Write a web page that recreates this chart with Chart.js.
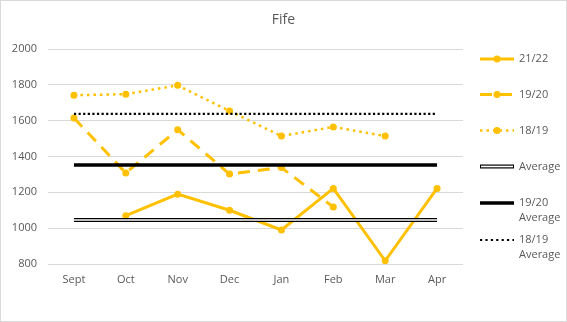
<!DOCTYPE html>
<html>
<head>
<meta charset="utf-8">
<script src="https://cdn.jsdelivr.net/npm/chart.js@4/dist/chart.umd.min.js"></script>
<style>
  html, body { margin: 0; padding: 0; background: #fff; }
  #wrap { width: 567px; height: 322px; position: relative; }
</style>
</head>
<body>
<div id="wrap"><canvas id="c" width="567" height="322"></canvas></div>
<script>
// Monthly figures for Fife
const months = ['Sept', 'Oct', 'Nov', 'Dec', 'Jan', 'Feb', 'Mar', 'Apr'];
const s2122 = [null, 1070, 1190, 1100, 990, 1222, 818, 1222];
const s1920 = [1615, 1308, 1550, 1302, 1338, 1118, null, null];
const s1819 = [1742, 1748, 1797, 1654, 1514, 1565, 1514, null];
const avg2122 = [1046, 1046, 1046, 1046, 1046, 1046, 1046, 1046];
const avg1920 = [1352, 1352, 1352, 1352, 1352, 1352, 1352, 1352];
const avg1819 = [1638, 1638, 1638, 1638, 1638, 1638, 1638, 1638];
const yTicks = [800, 1000, 1200, 1400, 1600, 1800, 2000];
const legendLabels = [['21/22'], ['19/20'], ['18/19'], ['Average'], ['19/20', 'Average'], ['18/19', 'Average']];

const GOLD = '#FFC000';
const FONT = "'Open Sans', 'Liberation Sans', sans-serif";

const datasets = [
  { data: s2122, borderColor: GOLD, backgroundColor: GOLD, borderWidth: 3,
    pointRadius: 3.5, pointBorderWidth: 0, pointBackgroundColor: GOLD },
  { data: s1920, borderColor: GOLD, backgroundColor: GOLD, borderWidth: 3,
    borderDash: [12, 8], pointRadius: 3.5, pointBorderWidth: 0, pointBackgroundColor: GOLD },
  { data: s1819, borderColor: GOLD, backgroundColor: GOLD, borderWidth: 2.5,
    borderDash: [2.5, 4], pointRadius: 3.5, pointBorderWidth: 0, pointBackgroundColor: GOLD },
  { data: avg2122, borderColor: '#000', borderWidth: 4, pointRadius: 0 },
  { data: avg2122, borderColor: '#fff', borderWidth: 1.6, pointRadius: 0 },
  { data: avg1920, borderColor: '#000', borderWidth: 3.5, pointRadius: 0 },
  { data: avg1819, borderColor: '#000', borderWidth: 2.2, borderDash: [2.2, 2.4], pointRadius: 0 }
];
// later series are painted over earlier ones
datasets.forEach((d, i) => {
  d.fill = false; d.tension = 0; d.spanGaps = false; d.borderCapStyle = 'butt';
  d.order = 10 - i;
});

// Title, legend and outer frame
const decor = {
  id: 'decor',
  afterDraw(chart) {
    const ctx = chart.ctx;
    ctx.save();
    ctx.strokeStyle = '#d9d9d9';
    ctx.lineWidth = 1;
    ctx.strokeRect(0.5, 0.5, 566, 321);

    ctx.fillStyle = '#595959';
    ctx.font = '14px ' + FONT;
    ctx.textAlign = 'center';
    ctx.textBaseline = 'middle';
    ctx.fillText('Fife', 283.5, 20);

    const ys = [59, 94.5, 130.5, 166.5, 203, 240];
    const x0 = 480, x1 = 514, tx = 519;
    ctx.font = '11px ' + FONT;
    ctx.textAlign = 'left';
    legendLabels.forEach((lab, i) => {
      const y = ys[i];
      ctx.setLineDash([]);
      ctx.lineCap = 'butt';
      if (i < 3) {
        const d = datasets[i];
        ctx.strokeStyle = GOLD;
        ctx.lineWidth = d.borderWidth;
        ctx.setLineDash(d.borderDash || []);
        ctx.beginPath(); ctx.moveTo(x0, y); ctx.lineTo(x1, y); ctx.stroke();
        ctx.setLineDash([]);
        ctx.fillStyle = GOLD;
        ctx.beginPath(); ctx.arc((x0 + x1) / 2, y, 3.5, 0, Math.PI * 2); ctx.fill();
      } else if (i === 3) {
        ctx.strokeStyle = '#000'; ctx.lineWidth = 4;
        ctx.beginPath(); ctx.moveTo(x0, y); ctx.lineTo(x1, y); ctx.stroke();
        ctx.strokeStyle = '#fff'; ctx.lineWidth = 1.6;
        ctx.beginPath(); ctx.moveTo(x0 + 1, y); ctx.lineTo(x1 - 1, y); ctx.stroke();
      } else if (i === 4) {
        ctx.strokeStyle = '#000'; ctx.lineWidth = 3.5;
        ctx.beginPath(); ctx.moveTo(x0, y); ctx.lineTo(x1, y); ctx.stroke();
      } else {
        ctx.strokeStyle = '#000'; ctx.lineWidth = 2.2;
        ctx.setLineDash([2.2, 3.2]);
        ctx.beginPath(); ctx.moveTo(x0, y); ctx.lineTo(x1, y); ctx.stroke();
        ctx.setLineDash([]);
      }
      ctx.fillStyle = '#595959';
      lab.forEach((t, k) => ctx.fillText(t, tx, y + k * 15));
    });
    ctx.restore();
  }
};

new Chart(document.getElementById('c'), {
  type: 'line',
  data: { labels: months, datasets },
  options: {
    responsive: false,
    animation: false,
    devicePixelRatio: 1,
    layout: { padding: { top: 49, right: 104, bottom: 0, left: 0 } },
    plugins: { legend: { display: false }, title: { display: false }, tooltip: { enabled: false } },
    scales: {
      x: {
        offset: true,
        grid: { display: false, drawTicks: false },
        border: { display: false },
        ticks: { color: '#595959', font: { family: FONT, size: 11 }, padding: 9, maxRotation: 0 },
        afterFit(s) { s.height = 58; }
      },
      y: {
        min: 800, max: 2000,
        afterBuildTicks(s) { s.ticks = yTicks.map(v => ({ value: v })); },
        grid: { color: '#d9d9d9', lineWidth: 1, drawTicks: false },
        border: { display: false },
        ticks: { color: '#595959', font: { family: FONT, size: 11 }, padding: 11,
                 callback: v => String(v) },
        afterFit(s) { s.width = 48; }
      }
    }
  },
  plugins: [decor]
});
</script>
</body>
</html>
